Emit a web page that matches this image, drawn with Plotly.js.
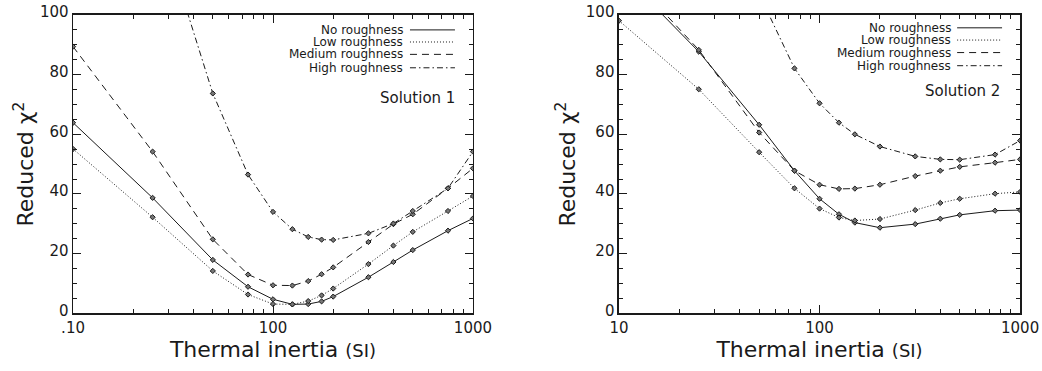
<!DOCTYPE html>
<html>
<head>
<meta charset="utf-8">
<script src="https://cdn.plot.ly/plotly-3.0.1.min.js"></script>
<style>html,body{margin:0;padding:0;background:#fff;}#chart{width:1042px;height:371px;}</style>
</head>
<body>
<div id="chart"></div>
<script>
// Thermal inertia (SI)
const x1 = [10, 25, 50, 75, 100, 125, 150, 175, 200, 300, 400, 500, 750, 1000];
const s1None   = [63.9, 38.7, 17.9, 8.9, 4.7, 3.0, 3.1, 4.0, 5.6, 12.1, 17.2, 21.2, 27.7, 31.8];
const s1Low    = [55.1, 32.2, 14.2, 6.3, 3.1, 3.0, 4.1, 6.0, 8.3, 16.5, 22.7, 27.3, 34.3, 39.3];
const s1Medium = [89.4, 54.2, 24.8, 13.0, 9.4, 9.3, 10.8, 13.1, 15.4, 23.9, 29.9, 33.2, 41.9, 48.6];
const s1High   = [250, 138, 73.7, 46.5, 34.0, 28.2, 25.6, 24.7, 24.6, 26.8, 30.1, 34.3, 41.9, 54.2];

const x2 = [10, 25, 50, 75, 100, 125, 150, 200, 300, 400, 500, 750, 1000];
const s2None   = [115, 87.7, 63.2, 47.8, 38.4, 33.2, 30.4, 28.7, 29.9, 31.7, 33.0, 34.4, 34.6];
const s2Low    = [98.1, 75.1, 54.0, 41.9, 35.1, 32.1, 31.1, 31.6, 34.6, 37.0, 38.4, 40.1, 40.7];
const s2Medium = [117, 88.3, 60.6, 47.8, 43.1, 41.7, 41.8, 43.1, 46.0, 47.8, 49.1, 50.5, 51.6];
const s2High   = [220, 150, 107, 82.1, 70.4, 63.9, 60.0, 55.9, 52.6, 51.6, 51.5, 53.2, 57.9];

const seriesNames = ['No roughness', 'Low roughness', 'Medium roughness', 'High roughness'];
const xTickVals = [10, 100, 1000];
const xTickText1 = ['.10', '100', '1000'];
const xTickText2 = ['10', '100', '1000'];
const panelLabels = ['Solution 1', 'Solution 2'];

const FONT = 'DejaVu Sans, sans-serif';
const INK = '#1a1a1a';
const dashes = ['solid', '1px,2px', '7px,5px', '6px,3px,1.5px,3px'];

const traces = [];
function addPanel(x, ys, xa, ya) {
  ys.forEach((y, i) => {
    traces.push({
      x: x, y: y, xaxis: xa, yaxis: ya, type: 'scatter', mode: 'lines+markers',
      name: seriesNames[i], showlegend: false,
      line: {color: INK, width: 1, dash: dashes[i]},
      marker: {symbol: 'diamond', size: 4, color: '#777', line: {width: 1, color: INK}}
    });
  });
}
addPanel(x1, [s1None, s1Low, s1Medium, s1High], 'x', 'y');
addPanel(x2, [s2None, s2Low, s2Medium, s2High], 'x2', 'y2');

const minorX = [20,30,40,50,60,70,80,90,200,300,400,500,600,700,800,900];
function xAxis(domain, anchor, ticktext) {
  return {
    domain: domain, anchor: anchor, type: 'log', range: [1, 3],
    tickvals: xTickVals, ticktext: ticktext,
    ticks: 'inside', ticklen: 8, tickwidth: 1, tickcolor: INK,
    showline: true, linecolor: INK, linewidth: 1.5, mirror: 'ticks',
    showgrid: false, zeroline: false,
    minor: {tickvals: minorX, ticks: 'inside', ticklen: 4, tickwidth: 1, tickcolor: INK, showgrid: false},
    tickfont: {family: FONT, size: 15, color: INK},
    title: {text: 'Thermal inertia <span style="font-size:18px">(SI)</span>', font: {family: FONT, size: 22, color: INK}, standoff: 6}
  };
}
function yAxis(domain, anchor, standoff) {
  return {
    domain: domain, anchor: anchor, range: [0, 100], dtick: 20,
    ticks: 'inside', ticklen: 8, tickwidth: 1, tickcolor: INK,
    showline: true, linecolor: INK, linewidth: 1.5, mirror: 'ticks',
    showgrid: false, zeroline: false, ticklabelshift: -3,
    minor: {dtick: 5, ticks: 'inside', ticklen: 4, tickwidth: 1, tickcolor: INK, showgrid: false},
    tickfont: {family: FONT, size: 15, color: INK},
    title: {text: 'Reduced χ<sup>2</sup>', font: {family: FONT, size: 22, color: INK}, standoff: standoff}
  };
}

// legend drawn inside each panel (text on the left, line sample on the right)
const annotations = [];
const shapes = [];
const legendCfg = [
  {xr: 'x domain', yr: 'y domain', textX: 0.83, l0: 0.8425, l1: 0.955, rows: [0.950, 0.9095, 0.868, 0.823], label: {x: 0.96, y: 0.723}},
  {xr: 'x2 domain', yr: 'y2 domain', textX: 0.833, l0: 0.843, l1: 0.955, rows: [0.957, 0.916, 0.874, 0.830], label: {x: 0.955, y: 0.745}}
];
legendCfg.forEach((c, p) => {
  seriesNames.forEach((nm, i) => {
    annotations.push({xref: c.xr, yref: c.yr, x: c.textX, y: c.rows[i], text: nm, showarrow: false,
      xanchor: 'right', yanchor: 'middle', font: {family: FONT, size: 12, color: INK}});
    shapes.push({type: 'line', xref: c.xr, yref: c.yr, x0: c.l0, x1: c.l1, y0: c.rows[i], y1: c.rows[i],
      line: {color: INK, width: 1, dash: dashes[i]}});
  });
  annotations.push({xref: c.xr, yref: c.yr, x: c.label.x, y: c.label.y, text: panelLabels[p], showarrow: false,
    xanchor: 'right', yanchor: 'middle', font: {family: FONT, size: 15, color: INK}});
});

const layout = {
  width: 1042, height: 371,
  margin: {l: 0, r: 0, t: 0, b: 0},
  paper_bgcolor: '#fff', plot_bgcolor: '#fff',
  showlegend: false,
  xaxis: xAxis([0.0701, 0.4539], 'y', xTickText1),
  yaxis: yAxis([0.1555, 0.9596], 'x', 0),
  xaxis2: xAxis([0.594, 0.979], 'y2', xTickText2),
  yaxis2: yAxis([0.1555, 0.9596], 'x2', 4),
  annotations: annotations,
  shapes: shapes
};

Plotly.newPlot('chart', traces, layout, {staticPlot: true});
</script>
</body>
</html>
